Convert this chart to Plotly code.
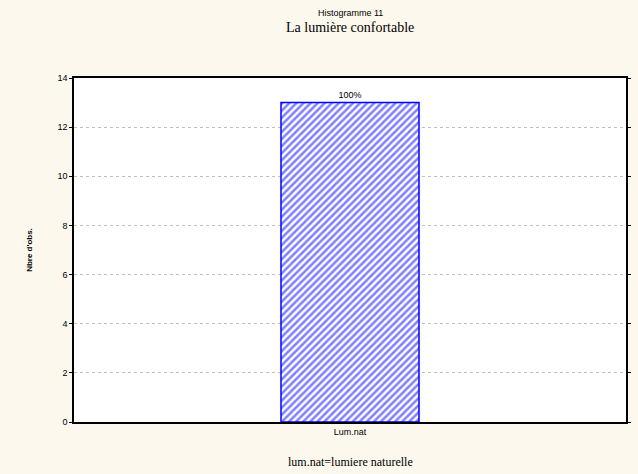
import plotly.graph_objects as go

categories = ["Lum.nat"]
counts = [13]
bar_labels = ["100%"]
y_ticks = [0, 2, 4, 6, 8, 10, 12, 14]

W, H = 638, 474
L, R, T, B = 74, 7, 78, 52

fig = go.Figure()
fig.add_trace(go.Bar(
    x=categories, y=counts, text=bar_labels, textposition="outside",
    textfont=dict(family="Arial, Liberation Sans", size=9, color="#000"),
    width=1.0,
    marker=dict(color="white", line=dict(color="#0000ff", width=1.5),
                pattern=dict(shape="/", fgcolor="#0000ff", bgcolor="white", size=5, solidity=0.5)),
    cliponaxis=False,
))

ph = H - T - B
def py(pix):
    return (H - B - pix) / ph

fig.update_layout(
    width=W, height=H,
    paper_bgcolor="#fdf8ee", plot_bgcolor="white",
    margin=dict(l=L, r=R, t=T, b=B),
    showlegend=False,
    font=dict(family="Liberation Sans, Arial", size=9, color="#000"),
    xaxis=dict(range=[-2, 2], showline=True, linecolor="#000", linewidth=1.5, mirror=True,
               showgrid=False, ticks="", tickfont=dict(size=9)),
    yaxis=dict(range=[0, 14], tickvals=y_ticks, showline=True, linecolor="#000", linewidth=1.5,
               mirror="allticks", ticks="outside", ticklen=3, tickcolor="#000",
               showgrid=True, gridcolor="#c0c0c0", griddash="dot", gridwidth=1,
               zeroline=False, tickfont=dict(size=9, family="Liberation Sans, Arial"),
               title=dict(text="<b>Nbre d'obs.</b>", font=dict(size=8), standoff=24)),
    annotations=[
        dict(text="Histogramme 11", x=0.5, y=py(13), xref="paper", yref="paper", yanchor="middle",
             showarrow=False, font=dict(family="Liberation Sans, Arial", size=9)),
        dict(text="La lumière confortable", x=0.5, y=py(28), xref="paper", yref="paper", yanchor="middle",
             showarrow=False, font=dict(family="Liberation Serif, Times New Roman", size=14)),
        dict(text="lum.nat=lumiere naturelle", x=0.5, y=py(462), xref="paper", yref="paper", yanchor="middle",
             showarrow=False, font=dict(family="Liberation Serif, Times New Roman", size=12)),
    ],
)

fig.write_html("out.html", config={"displayModeBar": False},
               post_script="document.body.style.margin='0';document.body.style.background='#fdf8ee';")
